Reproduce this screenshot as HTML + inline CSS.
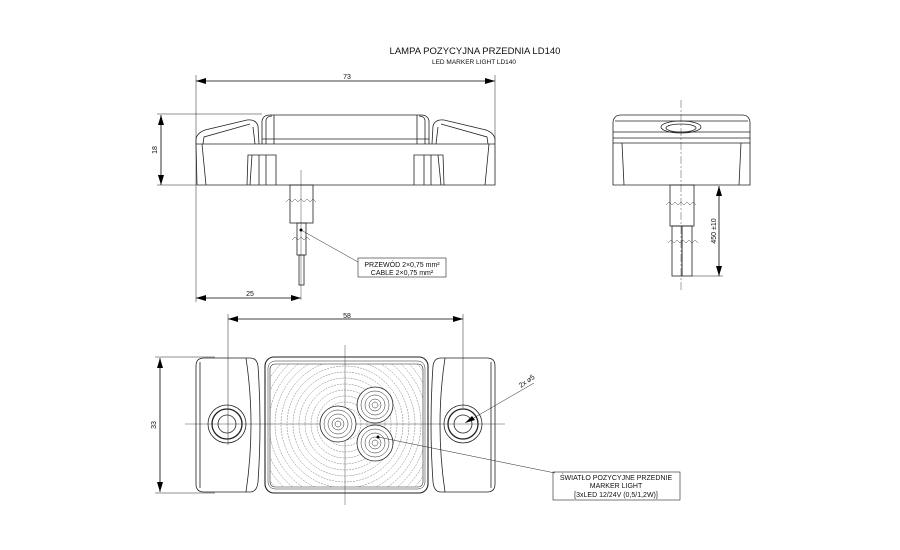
<!DOCTYPE html>
<html><head><meta charset="utf-8"><style>
html,body{margin:0;padding:0;background:#fff;}
svg{display:block;}
text{font-family:"Liberation Sans",sans-serif;fill:#111;}
</style></head><body>
<svg width="900" height="550" viewBox="0 0 900 550" xmlns="http://www.w3.org/2000/svg">
<defs>
<marker id="ar" markerWidth="10" markerHeight="6" refX="10" refY="3" orient="auto-start-reverse" markerUnits="userSpaceOnUse"><path d="M0,0 L10,3 L0,6 Z" fill="#000"/></marker>
<clipPath id="lens"><rect x="270" y="364" width="153" height="123" rx="5"/></clipPath>
</defs>
<text x="475" y="54" font-size="9.5" text-anchor="middle">LAMPA POZYCYJNA PRZEDNIA LD140</text>
<text x="474" y="64" font-size="6.5" text-anchor="middle">LED MARKER LIGHT LD140</text>

<g fill="none" stroke="#222" stroke-width="0.8">
<!-- SIDE VIEW -->
<line x1="196" y1="81" x2="495" y2="81" stroke="#000" marker-start="url(#ar)" marker-end="url(#ar)"/>
<line x1="196" y1="75" x2="196" y2="302" stroke-width="0.5"/>
<line x1="495" y1="75" x2="495" y2="140" stroke-width="0.5"/>
<line x1="161" y1="115" x2="161" y2="185" stroke="#000" marker-start="url(#ar)" marker-end="url(#ar)"/>
<line x1="157" y1="114" x2="262" y2="114" stroke-width="0.5"/>
<line x1="157" y1="185" x2="196" y2="185" stroke-width="0.5"/>
<line x1="196" y1="298" x2="301" y2="298" stroke="#000" marker-start="url(#ar)" marker-end="url(#ar)"/>
<path d="M196,144 L196,139 Q197,133 205,130 L247,120 Q256,119 258,126 L259,144"/>
<path d="M203,144 L204,137 L250,124"/>
<path d="M253,127 L255,144"/>
<path d="M495,144 L495,139 Q494,133 486,130 L444,120 Q435,119 433,126 L432,144"/>
<path d="M488,144 L487,137 L441,124"/>
<path d="M438,127 L436,144"/>
<path d="M262,144 L262,121 Q263,115 270,115 L421,115 Q428,115 429,121 L429,144"/>
<path d="M266,144 L266,120 Q267,116 272,116"/>
<path d="M425,144 L425,120 Q424,116 419,116"/>
<line x1="262" y1="139" x2="429" y2="139"/>
<line x1="274" y1="115" x2="274" y2="144"/>
<line x1="417" y1="115" x2="417" y2="144"/>
<line x1="196" y1="144" x2="495" y2="144"/>
<path d="M196,144 L197,185 L495,185 L495,144"/>
<line x1="202" y1="144" x2="206" y2="185"/>
<line x1="489" y1="144" x2="485" y2="185"/>
<path d="M247,185 L248,155 L276,155 L276,185"/>
<line x1="252" y1="155" x2="250" y2="185"/><line x1="259" y1="155" x2="259" y2="185"/><line x1="266" y1="155" x2="266" y2="185"/>
<path d="M414,185 L414,155 L443,155 L444,185"/>
<line x1="424" y1="155" x2="424" y2="185"/><line x1="431" y1="155" x2="431" y2="185"/><line x1="438" y1="155" x2="441" y2="185"/>
<rect x="290" y="185" width="23" height="38"/>
<rect x="297" y="223" width="9" height="32"/>
<rect x="299" y="255" width="5" height="30"/>
<line x1="301" y1="170" x2="301" y2="300" stroke-width="0.4"/>
<path d="M286,202 l3,-3 l3,3 l3,-3 l3,3 l3,-3 l3,3 l3,-3 l3,3 l3,-3 l3,3" stroke-width="0.4"/>
<path d="M292,240 l3,-3 l3,3 l3,-3 l3,3 l3,-3 l3,3" stroke-width="0.4"/>
<line x1="301" y1="230" x2="358" y2="262" stroke-width="0.5"/>
<rect x="358" y="258" width="88" height="19" stroke-width="0.6"/>

<!-- RIGHT VIEW -->
<path d="M613,185 L613,122 Q614,115 621,115 L742,115 Q749,115 750,122 L750,185 Z"/>
<line x1="615" y1="121" x2="748" y2="121"/>
<line x1="613" y1="132" x2="750" y2="132"/>
<line x1="613" y1="138" x2="750" y2="138"/>
<line x1="613" y1="143" x2="750" y2="143"/>
<line x1="622" y1="143" x2="624" y2="185"/>
<line x1="741" y1="143" x2="739" y2="185"/>
<ellipse cx="681" cy="127" rx="20" ry="6"/>
<ellipse cx="681" cy="128" rx="15" ry="4"/>
<line x1="681" y1="100" x2="681" y2="290" stroke-width="0.4" stroke-dasharray="8,2,2,2"/>
<rect x="670" y="185" width="24" height="41"/>
<rect x="672" y="226" width="10" height="50"/>
<rect x="682" y="226" width="10" height="50"/>
<path d="M666,205 l3,-3 l3,3 l3,-3 l3,3 l3,-3 l3,3 l3,-3 l3,3 l3,-3 l3,3" stroke-width="0.4"/>
<path d="M668,243 l3,-3 l3,3 l3,-3 l3,3 l3,-3 l3,3 l3,-3 l3,3 l3,-3 l3,3" stroke-width="0.4"/>
<line x1="719" y1="186" x2="719" y2="276" stroke="#000" marker-start="url(#ar)" marker-end="url(#ar)"/>
<line x1="692" y1="276" x2="723" y2="276" stroke-width="0.5"/>

<!-- FRONT VIEW -->
<line x1="228" y1="319" x2="463" y2="319" stroke="#000" marker-start="url(#ar)" marker-end="url(#ar)"/>
<line x1="228" y1="314" x2="228" y2="445" stroke-width="0.5"/>
<line x1="463" y1="314" x2="463" y2="408" stroke-width="0.5"/>
<line x1="160" y1="358" x2="160" y2="492" stroke="#000" marker-start="url(#ar)" marker-end="url(#ar)"/>
<line x1="155" y1="357" x2="215" y2="357" stroke-width="0.5"/>
<line x1="155" y1="493" x2="215" y2="493" stroke-width="0.5"/>
<line x1="185" y1="424" x2="505" y2="424" stroke-width="0.4"/>
<line x1="345" y1="345" x2="345" y2="505" stroke-width="0.4"/>
<path d="M196,366 Q196,358 204,358 L250,358 Q257,358 258,366 Q262,424 258,482 Q257,492 250,492 L204,492 Q196,492 196,484 Z"/>
<line x1="200" y1="362" x2="200" y2="488"/>
<path d="M246,358 Q256,424 246,492"/>
<circle cx="227" cy="424" r="19"/><circle cx="227" cy="424" r="15" stroke-width="1.3"/><circle cx="227" cy="424" r="9"/>
<path d="M495,366 Q495,358 487,358 L441,358 Q434,358 433,366 Q429,424 433,482 Q434,492 441,492 L487,492 Q495,492 495,484 Z"/>
<line x1="491" y1="362" x2="491" y2="488"/>
<path d="M445,358 Q435,424 445,492"/>
<circle cx="463" cy="424" r="19"/><circle cx="463" cy="424" r="15" stroke-width="1.3"/><circle cx="463" cy="424" r="9"/>
<rect x="265" y="357" width="163" height="136" rx="9" stroke-width="1.1"/>
<rect x="268" y="361" width="157" height="128" rx="7" stroke-width="0.5"/>
<rect x="270" y="364" width="153" height="123" rx="5" stroke-width="0.6"/>
<g clip-path="url(#lens)" stroke-width="0.4" stroke-dasharray="2,1" stroke="#555">
<circle cx="345" cy="424" r="10"/><circle cx="345" cy="424" r="16"/><circle cx="345" cy="424" r="22"/><circle cx="345" cy="424" r="28"/><circle cx="345" cy="424" r="34"/><circle cx="345" cy="424" r="40"/><circle cx="345" cy="424" r="46"/><circle cx="345" cy="424" r="52"/><circle cx="345" cy="424" r="58"/><circle cx="345" cy="424" r="64"/><circle cx="345" cy="424" r="70"/><circle cx="345" cy="424" r="76"/><circle cx="345" cy="424" r="82"/><circle cx="345" cy="424" r="88"/><circle cx="345" cy="424" r="94"/>
</g>
<g fill="#fff"><circle cx="338" cy="424" r="18"/><circle cx="375" cy="405" r="18"/><circle cx="375" cy="443" r="18"/></g>
<g stroke-width="0.5">
<circle cx="338" cy="424" r="14"/><circle cx="338" cy="424" r="10"/><circle cx="338" cy="424" r="6"/><circle cx="338" cy="424" r="3"/>
<circle cx="375" cy="405" r="14"/><circle cx="375" cy="405" r="10"/><circle cx="375" cy="405" r="6"/><circle cx="375" cy="405" r="3"/>
<circle cx="375" cy="443" r="14"/><circle cx="375" cy="443" r="10"/><circle cx="375" cy="443" r="6"/><circle cx="375" cy="443" r="3"/>
</g>
<line x1="378" y1="437" x2="555" y2="473" stroke-width="0.5"/>
<rect x="553" y="472" width="127" height="28" stroke-width="0.6"/>
<line x1="465" y1="423" x2="534" y2="383" stroke-width="0.5"/>
</g>
<circle cx="301" cy="230" r="1.5" fill="#000"/>
<circle cx="378" cy="437" r="1.5" fill="#000"/>
<path d="M465,423 L472,416 L475,420 Z" fill="#000"/>

<text x="347" y="79" font-size="7" text-anchor="middle">73</text>
<text x="157" y="150" font-size="7" text-anchor="middle" transform="rotate(-90 157 150)">18</text>
<text x="250" y="296" font-size="7" text-anchor="middle">25</text>
<text x="402" y="267" font-size="7" text-anchor="middle">PRZEWÓD 2×0,75 mm²</text>
<text x="402" y="275" font-size="7" text-anchor="middle">CABLE 2×0,75 mm²</text>
<text x="716" y="231" font-size="7" text-anchor="middle" transform="rotate(-90 716 231)">450 ±10</text>
<text x="347" y="318" font-size="7" text-anchor="middle">58</text>
<text x="156" y="425" font-size="7" text-anchor="middle" transform="rotate(-90 156 425)">33</text>
<text x="528" y="383" font-size="7" text-anchor="middle" transform="rotate(-35 528 383)">2x ⌀5</text>
<text x="616" y="480" font-size="7" text-anchor="middle">ŚWIATŁO POZYCYJNE PRZEDNIE</text>
<text x="616" y="488" font-size="7" text-anchor="middle">MARKER LIGHT</text>
<text x="616" y="497" font-size="7" text-anchor="middle">[3xLED 12/24V (0,5/1,2W)]</text>
</svg>
</body></html>
